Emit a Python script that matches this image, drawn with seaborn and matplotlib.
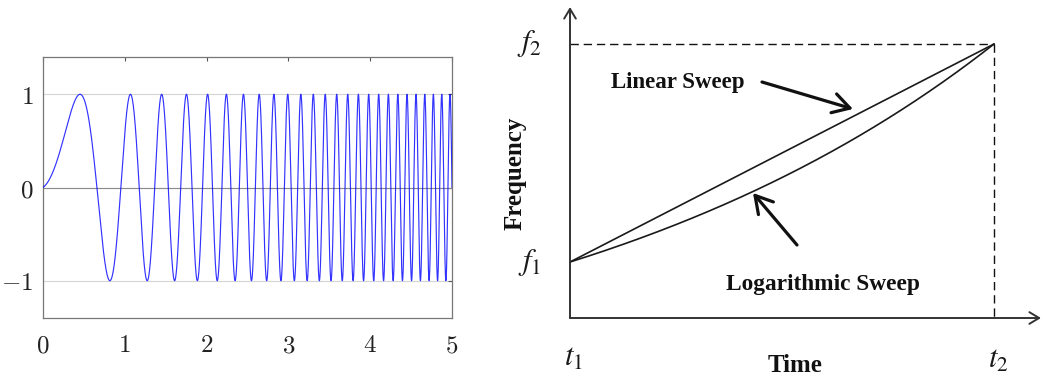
import numpy as np
import pandas as pd
import matplotlib
matplotlib.use("Agg")
import matplotlib.pyplot as plt
import seaborn as sns

# --- Chirp excitation (linear frequency sweep) ---
chirp_duration = 5.0     # s
chirp_f_start = 0.1      # Hz
chirp_f_end = 10.1       # Hz
chirp_xticks = [0, 1, 2, 3, 4, 5]
chirp_xticklabels = ["$0$", "$1$", "$2$", "$3$", "$4$", "$5$"]
chirp_yticks = [-1, 0, 1]
chirp_yticklabels = ["$-1$", "$0$", "$1$"]

# --- Sweep schematic ---
sweep_times = [0.0, 1.0]   # t1, t2
sweep_freqs = [1.0, 2.5]   # f1, f2
time_labels = ["$t_1$", "$t_2$"]
freq_labels = ["$f_1$", "$f_2$"]
sweep_names = ["Linear Sweep", "Logarithmic Sweep"]

sns.set_theme(style="white")
plt.rcParams["mathtext.fontset"] = "cm"

W, H = 1043, 381
fig = plt.figure(figsize=(W / 100, H / 100), dpi=100)


def px_axes(x0, y0, x1, y1):
    """Axes placed by a pixel box measured from the top-left corner."""
    return fig.add_axes([x0 / W, 1 - y1 / H, (x1 - x0) / W, (y1 - y0) / H])


# ---------------- left: chirp signal ----------------
ax1 = px_axes(43, 57, 452, 318)
t = np.linspace(0, chirp_duration, 20001)
rate = (chirp_f_end - chirp_f_start) / chirp_duration
phase = 2 * np.pi * (chirp_f_start * t + 0.5 * rate * t ** 2)
chirp_df = pd.DataFrame({"t": t, "y": np.sin(phase)})
sns.lineplot(data=chirp_df, x="t", y="y", ax=ax1, color="#0000ff",
             lw=0.85, alpha=0.8, estimator=None, sort=False, zorder=3)
ax1.set_xlim(0, chirp_duration)
ax1.set_ylim(-1.4, 1.4)
ax1.set_xticks(chirp_xticks)
ax1.set_xticklabels(chirp_xticklabels)
ax1.set_yticks(chirp_yticks)
ax1.set_yticklabels(chirp_yticklabels)
ax1.set_xlabel("")
ax1.set_ylabel("")
ax1.yaxis.grid(True, color="#d4d4d4", lw=0.8)
ax1.xaxis.grid(False)
ax1.axhline(0, color="#8c8c8c", lw=0.8, zorder=2)
ax1.tick_params(direction="in", length=3, width=0.8, color="#555555",
                top=True, right=True, labelsize=18, labelcolor="#222222")
ax1.tick_params(axis="x", pad=11)
ax1.tick_params(axis="y", pad=7)
for s in ax1.spines.values():
    s.set_color("#777777")
    s.set_linewidth(0.9)

# ---------------- right: sweep schematic ----------------
ax2 = px_axes(570, 0, 1043, 318)
t1, t2 = sweep_times
f1, f2 = sweep_freqs
px_per_f = 218 / (f2 - f1)
px_per_t = 424 / (t2 - t1)
y_base = f1 - 56 / px_per_f
ax2.set_xlim(t1, t1 + 473 / px_per_t)
ax2.set_ylim(y_base, f2 + 44 / px_per_f)
ax2.axis("off")

tt = np.linspace(t1, t2, 400)
frac = (tt - t1) / (t2 - t1)
linear_sweep = f1 + (f2 - f1) * frac
log_sweep = f1 * (f2 / f1) ** frac
sweep_df = pd.DataFrame({
    "t": np.concatenate([tt, tt]),
    "f": np.concatenate([linear_sweep, log_sweep]),
    "kind": [sweep_names[0]] * len(tt) + [sweep_names[1]] * len(tt),
})
sns.lineplot(data=sweep_df, x="t", y="f", units="kind", estimator=None,
             color="#1a1a1a", lw=1.2, ax=ax2, legend=False)
ax2.set_xlabel("")
ax2.set_ylabel("")

dash = (0, (6, 3.5))
ax2.plot([t1, t2], [f2, f2], color="#111111", lw=1.0, ls=dash)
ax2.plot([t2, t2], [f2, y_base], color="#111111", lw=1.0, ls=dash)

axis_arrow = dict(arrowstyle="->,head_length=0.5,head_width=0.3", color="#333333",
                  lw=1.4, shrinkA=0, shrinkB=0, mutation_scale=14)
ax2.annotate("", xy=(t1 + 471 / px_per_t, y_base), xytext=(t1, y_base),
             arrowprops=axis_arrow, annotation_clip=False)
ax2.annotate("", xy=(t1, f2 + 37 / px_per_f), xytext=(t1, y_base),
             arrowprops=axis_arrow, annotation_clip=False)

math_kw = dict(fontsize=22, math_fontfamily="stix", color="#1a1a1a",
               ha="center", va="center")
ax2.text(t1 - 40 / px_per_t, f1, freq_labels[0], **math_kw)
ax2.text(t1 - 40 / px_per_t, f2, freq_labels[1], **math_kw)
ax2.text(t1 + 3 / px_per_t, y_base - 40 / px_per_f, time_labels[0], **math_kw)
ax2.text(t2 + 4 / px_per_t, y_base - 42 / px_per_f, time_labels[1], **math_kw)

serif_kw = dict(family="Liberation Serif", weight="bold", color="#111111")
ax2.text(t1 + 225 / px_per_t, y_base - 48 / px_per_f, "Time",
         fontsize=18, ha="center", va="center", **serif_kw)
ax2.text(t1 - 55 / px_per_t, f1 + 89 / px_per_f, "Frequency", rotation=90,
         fontsize=18, ha="center", va="center", **serif_kw)
ax2.text(t1 + 41 / px_per_t, f1 + 174 / px_per_f, sweep_names[0],
         fontsize=16.5, ha="left", va="baseline", **serif_kw)
ax2.text(t1 + 156 / px_per_t, f1 - 28 / px_per_f, sweep_names[1],
         fontsize=16.8, ha="left", va="baseline", **serif_kw)

note_arrow = dict(arrowstyle="->,head_length=0.55,head_width=0.32", color="#111111",
                  lw=2.3, shrinkA=0, shrinkB=0, mutation_scale=22)
ax2.annotate("", xy=(t1 + 283 / px_per_t, f1 + 153 / px_per_f),
             xytext=(t1 + 192 / px_per_t, f1 + 180 / px_per_f),
             arrowprops=note_arrow)
ax2.annotate("", xy=(t1 + 183 / px_per_t, f1 + 69 / px_per_f),
             xytext=(t1 + 227 / px_per_t, f1 + 17 / px_per_f),
             arrowprops=note_arrow)

fig.savefig("out.png", dpi=100)
